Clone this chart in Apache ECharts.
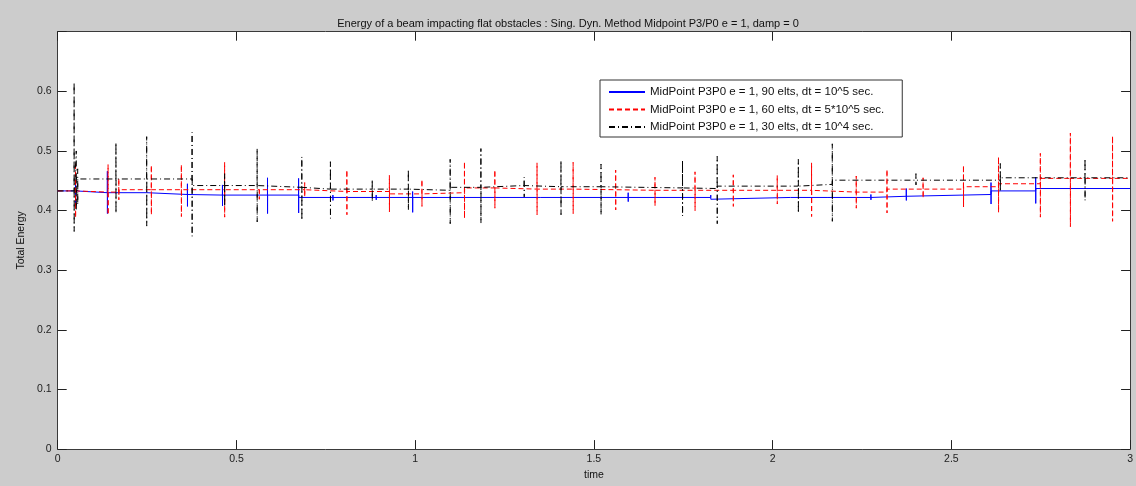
<!DOCTYPE html>
<html>
<head>
<meta charset="utf-8">
<script src="https://cdn.jsdelivr.net/npm/echarts@6/dist/echarts.min.js"></script>
<style>
html,body{margin:0;padding:0;background:#cccccc;}
#c{width:1136px;height:486px;}
</style>
</head>
<body>
<div id="c"></div>
<script>
// ---- data ----
const seriesNames = [
  'MidPoint P3P0 e = 1, 90 elts, dt = 10^5 sec.',
  'MidPoint P3P0 e = 1, 60 elts, dt = 5*10^5 sec.',
  'MidPoint P3P0 e = 1, 30 elts, dt = 10^4 sec.'
];
const xTicks = [0, 0.5, 1, 1.5, 2, 2.5, 3];
const yTicks = [0, 0.1, 0.2, 0.3, 0.4, 0.5, 0.6, 0.7];

// blue (90 elts): baseline level steps and impact spikes
const blueLevelT = [0, 0.05, 0.249, 0.363, 0.674, 2.275, 2.374, 2.611, 2.736];
const blueLevel  = [0.433, 0.430, 0.427, 0.426, 0.422, 0.424, 0.427, 0.433, 0.437];
const blueSpikeT  = [0.05, 0.139, 0.363, 0.461, 0.587, 0.674, 0.77, 0.891, 0.993, 1.35, 1.596, 1.827, 2.05, 2.155, 2.275, 2.374, 2.611, 2.736];
const blueSpikeHi = [0.451, 0.466, 0.445, 0.443, 0.455, 0.454, 0.426, 0.426, 0.432, 0.424, 0.430, 0.426, 0.424, 0.425, 0.427, 0.437, 0.447, 0.456];
const blueSpikeLo = [0.412, 0.395, 0.407, 0.408, 0.395, 0.396, 0.417, 0.418, 0.397, 0.420, 0.415, 0.419, 0.420, 0.419, 0.418, 0.417, 0.411, 0.412];

// red (60 elts)
const redLevelT = [0, 0.05, 0.171, 0.691, 0.928, 1.019, 1.138, 1.223, 1.442, 1.561, 2.109, 2.32, 2.534, 2.632, 2.749];
const redLevel  = [0.433, 0.431, 0.435, 0.432, 0.428, 0.430, 0.438, 0.436, 0.435, 0.434, 0.431, 0.436, 0.440, 0.445, 0.454];
const redSpikeT  = [0.05, 0.141, 0.171, 0.262, 0.346, 0.467, 0.564, 0.691, 0.809, 0.928, 1.019, 1.138, 1.223, 1.341, 1.442, 1.561, 1.671, 1.783, 1.890, 2.013, 2.109, 2.234, 2.320, 2.421, 2.534, 2.632, 2.749, 2.833, 2.951];
const redSpikeHi = [0.481, 0.477, 0.454, 0.476, 0.477, 0.481, 0.435, 0.447, 0.468, 0.459, 0.452, 0.482, 0.468, 0.480, 0.481, 0.468, 0.456, 0.465, 0.460, 0.459, 0.480, 0.458, 0.469, 0.455, 0.476, 0.490, 0.496, 0.530, 0.525];
const redSpikeLo = [0.388, 0.393, 0.418, 0.393, 0.390, 0.389, 0.419, 0.423, 0.393, 0.398, 0.407, 0.387, 0.404, 0.393, 0.395, 0.401, 0.408, 0.400, 0.407, 0.411, 0.390, 0.404, 0.396, 0.421, 0.406, 0.397, 0.389, 0.373, 0.382];

// black (30 elts)
const blackLevelT = [0, 0.048, 0.376, 0.558, 0.683, 0.981, 1.098, 1.184, 1.305, 1.52, 1.748, 1.845, 2.072, 2.167, 2.637];
const blackLevel  = [0.433, 0.453, 0.442, 0.439, 0.436, 0.434, 0.439, 0.442, 0.440, 0.438, 0.437, 0.441, 0.444, 0.451, 0.455];
const blackSpikeT  = [0.046, 0.052, 0.056, 0.163, 0.249, 0.376, 0.467, 0.558, 0.683, 0.763, 0.880, 0.981, 1.098, 1.184, 1.305, 1.408, 1.520, 1.748, 1.845, 2.072, 2.167, 2.401, 2.637, 2.874];
const blackSpikeHi = [0.615, 0.500, 0.470, 0.514, 0.524, 0.531, 0.462, 0.504, 0.490, 0.482, 0.452, 0.469, 0.486, 0.504, 0.456, 0.484, 0.478, 0.484, 0.491, 0.486, 0.512, 0.462, 0.479, 0.487];
const blackSpikeLo = [0.365, 0.400, 0.410, 0.396, 0.374, 0.357, 0.407, 0.381, 0.384, 0.387, 0.415, 0.401, 0.378, 0.379, 0.423, 0.393, 0.393, 0.391, 0.378, 0.396, 0.382, 0.443, 0.432, 0.417];

const T_END = 3;

// build a polyline (strictly increasing x) from level steps + spikes
function buildLine(levelT, level, spikeT, hi, lo) {
  const E = 2e-4;
  const ev = [];
  for (let i = 1; i < levelT.length; i++) ev.push({t: levelT[i], kind: 1, v: level[i]});
  for (let i = 0; i < spikeT.length; i++) ev.push({t: spikeT[i], kind: 0, hi: hi[i], lo: lo[i]});
  ev.sort((a, b) => a.t - b.t || a.kind - b.kind);
  let cur = level[0];
  const pts = [[0, cur]];
  for (const e of ev) {
    if (e.kind === 0) {
      pts.push([e.t - E, cur], [e.t - E / 3, e.hi], [e.t + E / 3, e.lo], [e.t + E, cur]);
    } else {
      pts.push([e.t + 1.5 * E, cur]);
      cur = e.v;
      pts.push([e.t + 2 * E, cur]);
    }
  }
  pts.push([T_END, cur]);
  return pts;
}

const chart = echarts.init(document.getElementById('c'), null, {renderer: 'canvas'});
const FONT = '"Liberation Sans", Arial, Helvetica, sans-serif';

const axisCommon = {
  type: 'value',
  splitLine: {show: false},
  axisLine: {show: true, onZero: false, lineStyle: {color: '#3a3a3a', width: 1}},
  axisTick: {show: true, inside: true, length: 9, lineStyle: {color: '#222'}},
};

chart.setOption({
  backgroundColor: '#cccccc',
  animation: false,
  textStyle: {fontFamily: FONT},
  title: {
    text: 'Energy of a beam impacting flat obstacles : Sing. Dyn. Method Midpoint P3/P0 e = 1, damp = 0',
    left: 'center', top: 13,
    textStyle: {fontSize: 11, fontWeight: 'normal', color: '#111', fontFamily: FONT}
  },
  grid: {left: 57.7, right: 4.3, top: 31.7, bottom: 30.3, show: true, backgroundColor: '#ffffff', borderWidth: 0},
  legend: {
    data: seriesNames,
    orient: 'vertical',
    left: 600, top: 80,
    backgroundColor: '#ffffff',
    borderColor: '#333', borderWidth: 1, borderRadius: 0,
    padding: [6, 18, 4, 8],
    itemWidth: 36, itemHeight: 12, itemGap: 5.5,
    itemStyle: {opacity: 0},
    textStyle: {fontSize: 11.5, color: '#111', fontFamily: FONT}
  },
  xAxis: [
    Object.assign({}, axisCommon, {
      min: xTicks[0], max: xTicks[xTicks.length - 1], interval: 0.5, position: 'bottom',
      name: 'time', nameLocation: 'middle', nameGap: 18,
      nameTextStyle: {fontSize: 10.5, color: '#111', fontFamily: FONT},
      axisLabel: {fontSize: 10.5, color: '#222', margin: 5, fontFamily: FONT}
    }),
    Object.assign({}, axisCommon, {
      min: xTicks[0], max: xTicks[xTicks.length - 1], interval: 0.5, position: 'top',
      axisLabel: {show: false}
    })
  ],
  yAxis: [
    Object.assign({}, axisCommon, {
      min: yTicks[0], max: yTicks[yTicks.length - 1], interval: 0.1, position: 'left',
      name: 'Total Energy', nameLocation: 'middle', nameGap: 28,
      nameTextStyle: {fontSize: 10.5, color: '#111', fontFamily: FONT},
      axisLabel: {
        fontSize: 10.5, color: '#222', margin: 6, fontFamily: FONT,
        formatter: v => (Math.abs(v - 0.7) < 1e-9 ? '' : String(Math.round(v * 10) / 10))
      }
    }),
    Object.assign({}, axisCommon, {
      min: yTicks[0], max: yTicks[yTicks.length - 1], interval: 0.1, position: 'right',
      axisLabel: {show: false}
    })
  ],
  series: [
    {
      name: seriesNames[0], type: 'line', symbol: 'none', silent: true,
      data: buildLine(blueLevelT, blueLevel, blueSpikeT, blueSpikeHi, blueSpikeLo),
      lineStyle: {color: '#0000ff', width: 1, type: 'solid'},
      itemStyle: {color: '#0000ff'}
    },
    {
      name: seriesNames[1], type: 'line', symbol: 'none', silent: true,
      data: buildLine(redLevelT, redLevel, redSpikeT, redSpikeHi, redSpikeLo),
      lineStyle: {color: '#ff0000', width: 1, type: [5, 3]},
      itemStyle: {color: '#ff0000'}
    },
    {
      name: seriesNames[2], type: 'line', symbol: 'none', silent: true,
      data: buildLine(blackLevelT, blackLevel, blackSpikeT, blackSpikeHi, blackSpikeLo),
      lineStyle: {color: '#000000', width: 1, type: [6, 3, 1, 3]},
      itemStyle: {color: '#000000'}
    }
  ]
});
</script>
</body>
</html>
